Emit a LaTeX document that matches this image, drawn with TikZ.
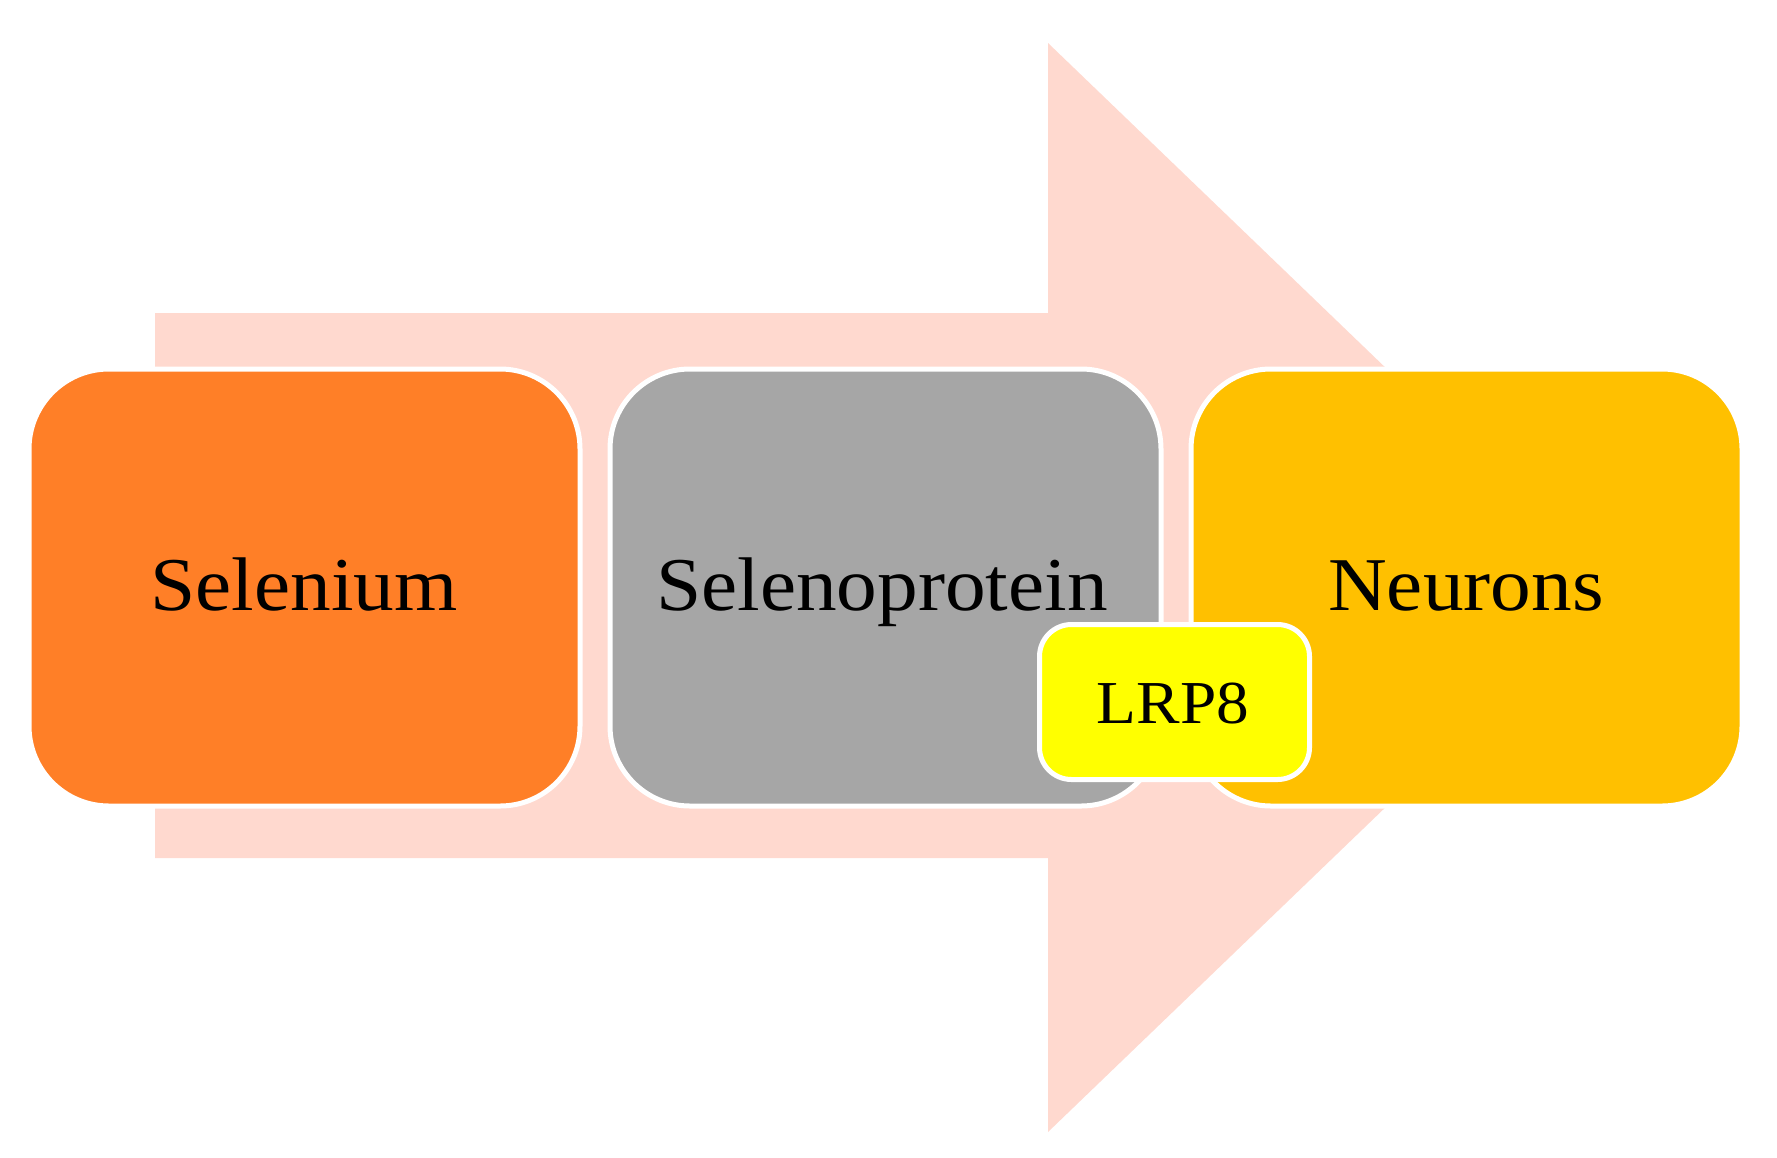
\documentclass[tikz,border=0pt]{standalone}
\usepackage{fontspec}
\setmainfont{Liberation Serif}[FakeStretch=1.07]
\definecolor{arrowpink}{HTML}{FFD9CF}
\definecolor{seorange}{HTML}{FF7F27}
\definecolor{segray}{HTML}{A6A6A6}
\definecolor{negold}{HTML}{FFC000}
\definecolor{lrpyellow}{HTML}{FFFF00}
\tikzset{
  bigbox/.style={draw=white, line width=5pt, rounded corners=80pt},
  smallbox/.style={draw=white, line width=5pt, rounded corners=32pt},
  bigtext/.style={anchor=base, inner sep=0pt, font=\fontsize{76}{90}\selectfont},
  smalltext/.style={anchor=base, inner sep=0pt, font=\fontsize{61}{72}\selectfont}
}
\begin{document}
\begin{tikzpicture}[x=1pt,y=-1pt]
\useasboundingbox (0,0) rectangle (1777,1157);
% big background arrow
\fill[arrowpink] (155,313) -- (1048,313) -- (1048,43) -- (1614,587.5) -- (1048,1132) -- (1048,858) -- (155,858) -- cycle;
% boxes
\filldraw[bigbox, fill=seorange] (29,369) rectangle (580,806);
\filldraw[bigbox, fill=segray] (610,369) rectangle (1161,806);
\filldraw[bigbox, fill=negold] (1191,369) rectangle (1742,806);
\node[bigtext] (selenium) at (304,610) {Selenium};
\node[bigtext] (selenoprotein) at (882,610) {Selenoprotein};
\node[bigtext] (neurons) at (1466,610) {Neurons};
% LRP8
\filldraw[smallbox, fill=lrpyellow] (1039.5,624.5) rectangle (1309.5,779.5);
\node[smalltext] (lrp8) at (1173,723) {LRP8};
\end{tikzpicture}
\end{document}
